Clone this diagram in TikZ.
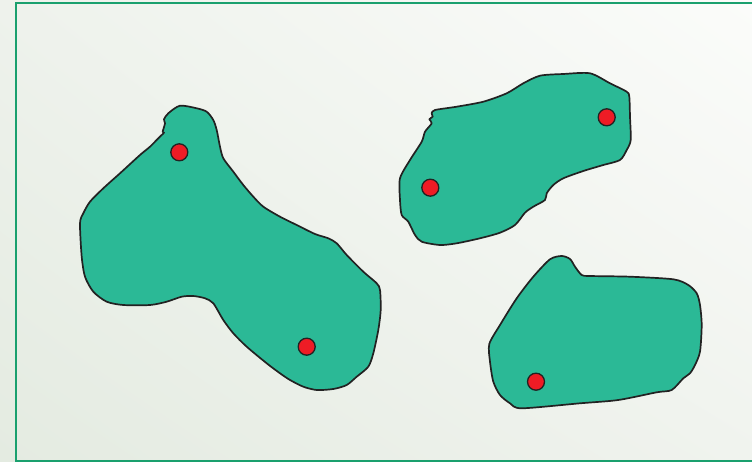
\documentclass[tikz,border=0pt]{standalone}
\usepackage{tikz}
\usetikzlibrary{shadings}
\definecolor{bgll}{HTML}{E4EBE1}
\definecolor{bgul}{HTML}{EEF2EC}
\definecolor{bglr}{HTML}{F0F3EE}
\definecolor{bgur}{HTML}{FBFCFA}
\definecolor{framegreen}{HTML}{1AA06E}
\definecolor{blobfill}{HTML}{2BB996}
\definecolor{blobline}{HTML}{222222}
\definecolor{dotred}{HTML}{EE1C25}
\tikzset{
  blob/.style={fill=blobfill, draw=blobline, line width=1.7pt, line join=round},
  dot/.style={circle, fill=dotred, draw=blobline, line width=1.3pt, minimum size=17pt, inner sep=0pt},
  frame/.style={draw=framegreen, line width=2pt}
}
\begin{document}
\begin{tikzpicture}[x=1pt,y=-1pt]
\useasboundingbox (0,0) rectangle (752,462);
\shade[lower left=bgll, upper left=bgul, lower right=bglr, upper right=bgur] (0,0) rectangle (752,462);
\draw[frame] (16,2.7) rectangle (780,461);
% blob 1
\draw[blob] plot[smooth cycle, tension=0.45] coordinates {
(180,105.7) (196.7,108.3) (206.7,111.7) (213.3,120) (216.7,130) (220,146.7) (223.3,158.3)
(233.3,171.7) (243.3,185) (253.3,196.7) (263.3,206.7) (280,216.7) (296.7,225) (315,234)
(328.3,238.3) (336.7,243.3) (346.7,255) (363.3,271.7) (376.7,283.3) (380,290) (380.7,310)
(378.3,330) (373.3,353.3) (368.3,366.7) (356.7,376.7) (346.7,385) (333.3,389) (316.7,390)
(303.3,386.7) (290,380) (280,373.3) (266.7,363.3) (246.7,346.7) (233.3,333.3) (223.3,320)
(213.3,303.3) (205,298.3) (193.3,296) (181.7,296.7) (166.7,301.7) (150,305) (123.3,305)
(106.7,301.7) (93.3,291.7) (85,276.7) (81.7,256.7) (80,223.3) (83.3,213.3) (90,201.7)
(103.3,188.3) (120,173.3) (140,155) (150,146.7) (158.3,138.3) (161.7,135) (164,132.7)
(162.7,131.7) (165,123.3) (164,119.3) (168.3,113.3)};
% blob 2
\draw[blob] plot[smooth cycle, tension=0.45] coordinates {
(435,110) (456.7,106.7) (483.3,101.7) (506.7,93.3) (523.3,83.3) (540,75.7) (563.3,74)
(590,73.3) (610,83.3) (626.7,91.7) (629.3,96.7) (630,116.7) (630.7,140) (626.7,150)
(620,160) (603.3,165) (583.3,171) (563.3,178.3) (553.3,185) (546.7,193.3) (545,200)
(533.3,206.7) (525,212.7) (515,225) (500,232.7) (480,238.3) (456.7,243.3) (440,245)
(421.7,241.7) (415,235) (408.3,221.7) (401.7,215) (400,200) (400,178.3) (410,160)
(421.7,141.7) (425,131.7) (431.7,123.3) (429.3,119.3) (432.7,116.7) (431.7,113.3)};
% blob 3
\draw[blob] plot[smooth cycle, tension=0.45] coordinates {
(550,259.3) (561.7,256) (570,259) (575,266.7) (581.7,275) (590,276) (630,276.7)
(673.3,279.3) (688.3,285) (696.7,293.3) (700,305) (701.7,325) (700,351.7) (695,365)
(690,373.3) (683.3,378.3) (671.7,390) (656.7,392.3) (618.3,400) (580,403.3) (521.7,408.3)
(510,403.3) (500,395) (493.3,381.7) (490,361.7) (489.3,344) (500,325) (516.7,298.3)
(533.3,276.7)};
% dots
\node[dot] (d1) at (179.3,152.3) {};
\node[dot] (d2) at (306.7,346.7) {};
\node[dot] (d3) at (606.7,117.3) {};
\node[dot] (d4) at (430.3,187.7) {};
\node[dot] (d5) at (536,381.7) {};
\end{tikzpicture}
\end{document}
